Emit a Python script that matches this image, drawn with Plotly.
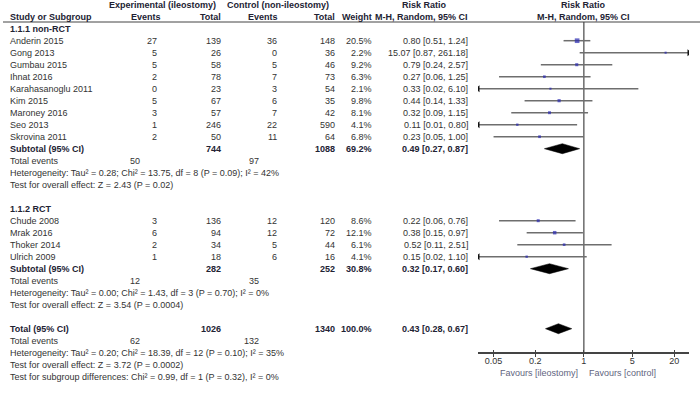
import math
import plotly.graph_objects as go

# ---------------- data ----------------
nonrct_studies = ["Anderin 2015", "Gong 2013", "Gumbau 2015", "Ihnat 2016", "Karahasanoglu 2011",
                  "Kim 2015", "Maroney 2016", "Seo 2013", "Skrovina 2011"]
nonrct_exp_events = [27, 5, 5, 2, 0, 5, 3, 1, 2]
nonrct_exp_total = [139, 26, 58, 78, 23, 67, 57, 246, 50]
nonrct_ctl_events = [36, 0, 5, 7, 3, 6, 7, 22, 11]
nonrct_ctl_total = [148, 36, 46, 73, 54, 35, 42, 590, 64]
nonrct_weight = [20.5, 2.2, 9.2, 6.3, 2.1, 9.8, 8.1, 4.1, 6.8]
nonrct_rr = [0.80, 15.07, 0.79, 0.27, 0.33, 0.44, 0.32, 0.11, 0.23]
nonrct_lo = [0.51, 0.87, 0.24, 0.06, 0.02, 0.14, 0.09, 0.01, 0.05]
nonrct_hi = [1.24, 261.18, 2.57, 1.25, 6.10, 1.33, 1.15, 0.80, 1.00]

rct_studies = ["Chude 2008", "Mrak 2016", "Thoker 2014", "Ulrich 2009"]
rct_exp_events = [3, 6, 2, 1]
rct_exp_total = [136, 94, 34, 18]
rct_ctl_events = [12, 12, 5, 6]
rct_ctl_total = [120, 72, 44, 16]
rct_weight = [8.6, 12.1, 6.1, 4.1]
rct_rr = [0.22, 0.38, 0.52, 0.15]
rct_lo = [0.06, 0.15, 0.11, 0.02]
rct_hi = [0.76, 0.97, 2.51, 1.10]

# subtotal / total: exp total, ctl total, weight, rr, lo, hi, exp events, ctl events
nonrct_sub = [744, 1088, 69.2, 0.49, 0.27, 0.87, 50, 97]
rct_sub = [282, 252, 30.8, 0.32, 0.17, 0.60, 12, 35]
overall = [1026, 1340, 100.0, 0.43, 0.28, 0.67, 62, 132]

nonrct_het = "Heterogeneity: Tau² = 0.28; Chi² = 13.75, df = 8 (P = 0.09); I² = 42%"
nonrct_test = "Test for overall effect: Z = 2.43 (P = 0.02)"
rct_het = "Heterogeneity: Tau² = 0.00; Chi² = 1.43, df = 3 (P = 0.70); I² = 0%"
rct_test = "Test for overall effect: Z = 3.54 (P = 0.0004)"
total_het = "Heterogeneity: Tau² = 0.20; Chi² = 18.39, df = 12 (P = 0.10); I² = 35%"
total_test = "Test for overall effect: Z = 3.72 (P = 0.0002)"
subgroup_test = "Test for subgroup differences: Chi² = 0.99, df = 1 (P = 0.32), I² = 0%"

tick_vals = [0.05, 0.2, 1, 5, 20]
tick_text = ["0.05", "0.2", "1", "5", "20"]

# ---------------- layout constants ----------------
W, H = 700, 395
FONT = "Liberation Sans, Arial, sans-serif"
FS = 9
TXT = "#333333"
BOLD = "#222233"
ROW0, STEP = 28.7, 12.0
XMIN, XMAX = -1.525, 1.515
AXIS_Y = 353.3
X_LEFT, X_RIGHT = 478, 689

def row_y(i):
    return ROW0 + STEP * i

fig = go.Figure()
ann = []

def txt(x, y, s, anchor="left", bold=False, color=None, size=FS):
    ann.append(dict(x=x / W, y=y, xref="paper", yref="y", text=("<b>%s</b>" % s) if bold else s,
                    showarrow=False, xanchor=anchor, yanchor="middle",
                    font=dict(family=FONT, size=size, color=color or (BOLD if bold else TXT))))

# column positions
C_NAME = 8
C_EE, C_ET, C_CE, C_CT, C_W, C_RR = 159, 222.5, 278.5, 337, 374, 470
C_TE_E, C_TE_C = 142, 261

# headers
txt(162.5, 4.7, "Experimental (ileostomy)", "center", True)
txt(277.5, 4.7, "Control (non-ileostomy)", "center", True)
txt(424, 4.7, "Risk Ratio", "center", True)
txt(583, 4.7, "Risk Ratio", "center", True)
txt(C_NAME, 16.7, "Study or Subgroup", "left", True)
txt(162.5, 16.7, "Events", "right", True)
txt(C_ET, 16.7, "Total", "right", True)
txt(279.5, 16.7, "Events", "right", True)
txt(C_CT, 16.7, "Total", "right", True)
txt(C_W, 16.7, "Weight", "right", True)
txt(C_RR, 16.7, "M-H, Random, 95% CI", "right", True)
txt(583, 16.7, "M-H, Random, 95% CI", "center", True)

fig.add_shape(type="line", xref="paper", yref="y", x0=3 / W, x1=1, y0=22, y1=22,
              line=dict(color="#444444", width=1))

lo_edge, hi_edge = 10 ** XMIN, 10 ** XMAX
ci_x, ci_y = [], []
pt_x, pt_y, pt_s = [], [], []
arr_l_x, arr_l_y, arr_r_x, arr_r_y = [], [], [], []
dia_x, dia_y = [], []

def fmt_rr(r, l, h):
    return "%.2f [%.2f, %.2f]" % (r, l, h)

def add_group(start, studies, ee, et, ce, ct, w, rr, lo, hi, sub, het, test):
    for k, name in enumerate(studies):
        y = row_y(start + k)
        txt(C_NAME, y, name)
        txt(C_EE, y, str(ee[k]), "right")
        txt(C_ET, y, str(et[k]), "right")
        txt(C_CE, y, str(ce[k]), "right")
        txt(C_CT, y, str(ct[k]), "right")
        txt(C_W, y, "%.1f%%" % w[k], "right")
        txt(C_RR, y, fmt_rr(rr[k], lo[k], hi[k]), "right")
        a, b = max(lo[k], lo_edge), min(hi[k], hi_edge)
        ci_x.extend([a, b, None]); ci_y.extend([y, y, None])
        if lo[k] < lo_edge:
            arr_l_x.append(a); arr_l_y.append(y)
        if hi[k] > hi_edge:
            arr_r_x.append(b); arr_r_y.append(y)
        pt_x.append(rr[k]); pt_y.append(y); pt_s.append(1.8 + 0.14 * w[k])
    i = start + len(studies)
    add_summary(i, "Subtotal (95% CI)", sub)
    txt(C_NAME, row_y(i + 1), "Total events")
    txt(C_TE_E, row_y(i + 1), str(sub[6]), "right")
    txt(C_TE_C, row_y(i + 1), str(sub[7]), "right")
    txt(C_NAME, row_y(i + 2), het)
    txt(C_NAME, row_y(i + 3), test)

def add_summary(i, label, s):
    y = row_y(i)
    txt(C_NAME, y, label, "left", True)
    txt(C_ET, y, str(s[0]), "right", True)
    txt(C_CT, y, str(s[1]), "right", True)
    txt(C_W, y, "%.1f%%" % s[2], "right", True)
    txt(C_RR, y, fmt_rr(s[3], s[4], s[5]), "right", True)
    h = 5
    dia_x.extend([s[4], s[3], s[5], s[3], s[4], None])
    dia_y.extend([y, y - h, y, y + h, y, None])

txt(C_NAME, row_y(0), "1.1.1 non-RCT", "left", True)
add_group(1, nonrct_studies, nonrct_exp_events, nonrct_exp_total, nonrct_ctl_events, nonrct_ctl_total,
          nonrct_weight, nonrct_rr, nonrct_lo, nonrct_hi, nonrct_sub, nonrct_het, nonrct_test)
txt(C_NAME, row_y(15), "1.1.2 RCT", "left", True)
add_group(16, rct_studies, rct_exp_events, rct_exp_total, rct_ctl_events, rct_ctl_total,
          rct_weight, rct_rr, rct_lo, rct_hi, rct_sub, rct_het, rct_test)
add_summary(25, "Total (95% CI)", overall)
txt(C_NAME, row_y(26), "Total events")
txt(C_TE_E, row_y(26), str(overall[6]), "right")
txt(C_TE_C, row_y(26), str(overall[7]), "right")
txt(C_NAME, row_y(27), total_het)
txt(C_NAME, row_y(28), total_test)
txt(C_NAME, row_y(29), subgroup_test)

# favours labels
FAV = "#5f6480"
txt(580, 373, "Favours [ileostomy]", "right", color=FAV)
txt(587, 373, "Favours [control]", "left", color=FAV)

# ---------------- traces ----------------
fig.add_trace(go.Scatter(x=[1, 1], y=[22, AXIS_Y], mode="lines",
                         line=dict(color="#555555", width=1.3), hoverinfo="skip"))
fig.add_trace(go.Scatter(x=ci_x, y=ci_y, mode="lines",
                         line=dict(color="#6e6e6e", width=1.5), hoverinfo="skip"))
fig.add_trace(go.Scatter(x=arr_l_x, y=arr_l_y, mode="markers",
                         marker=dict(symbol="triangle-left", size=6, color="#111111"), hoverinfo="skip"))
fig.add_trace(go.Scatter(x=arr_r_x, y=arr_r_y, mode="markers",
                         marker=dict(symbol="triangle-right", size=6, color="#111111"), hoverinfo="skip"))
fig.add_trace(go.Scatter(x=pt_x, y=pt_y, mode="markers",
                         marker=dict(symbol="square", size=pt_s, color="#2a2ab0", line=dict(width=0)),
                         hoverinfo="skip"))
fig.add_trace(go.Scatter(x=dia_x, y=dia_y, mode="lines", fill="toself", fillcolor="#000000",
                         line=dict(color="#000000", width=0.5), hoverinfo="skip"))

pos = 1 - AXIS_Y / H
dom = [X_LEFT / W, X_RIGHT / W]
fig.update_layout(
    width=W, height=H, margin=dict(l=0, r=0, t=0, b=0, pad=0),
    paper_bgcolor="white", plot_bgcolor="white", showlegend=False, hovermode=False,
    annotations=ann,
    xaxis=dict(type="log", range=[XMIN, XMAX], domain=dom, anchor="free", position=pos,
               showline=True, linecolor="#444444", linewidth=1.5, showgrid=False, zeroline=False,
               ticks="outside", ticklen=3, tickwidth=1.2, tickcolor="#444444",
               tickmode="array", tickvals=tick_vals, ticktext=tick_text, ticklabelstandoff=-4,
               tickfont=dict(family=FONT, size=FS, color=TXT), fixedrange=True),
    xaxis2=dict(type="log", range=[XMIN, XMAX], domain=dom, anchor="free", position=pos,
                overlaying="x", showline=False, showgrid=False, zeroline=False,
                ticks="inside", ticklen=3, tickwidth=1.2, tickcolor="#444444",
                tickmode="array", tickvals=tick_vals, showticklabels=False, fixedrange=True),
    yaxis=dict(range=[H, 0], domain=[0, 1], visible=False, fixedrange=True),
)
# invisible trace to activate xaxis2
fig.add_trace(go.Scatter(x=[1], y=[-10], xaxis="x2", mode="markers",
                         marker=dict(opacity=0), hoverinfo="skip"))

fig.write_html("out.html", config={"displayModeBar": False},
               post_script="document.body.style.margin='0';document.body.style.overflow='hidden';")
